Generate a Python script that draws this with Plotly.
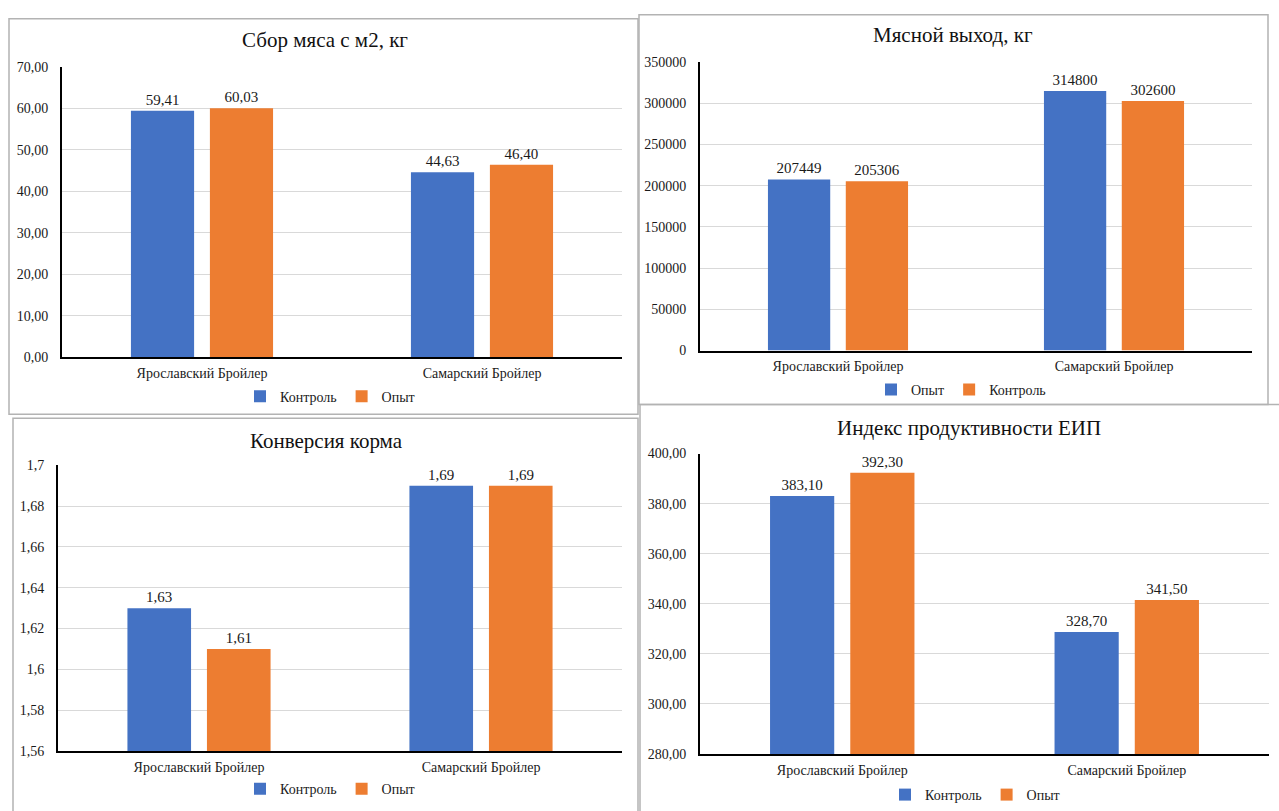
import plotly.graph_objects as go

W, H = 1279, 811

categories = ["Ярославский Бройлер", "Самарский Бройлер"]

# Panel 1: Сбор мяса с м2, кг
p1_title = "Сбор мяса с м2, кг"
p1_names = ["Контроль", "Опыт"]
p1_a = [59.41, 44.63]
p1_b = [60.03, 46.40]

# Panel 2: Мясной выход, кг
p2_title = "Мясной выход, кг"
p2_names = ["Опыт", "Контроль"]
p2_a = [207449, 314800]
p2_b = [205306, 302600]

# Panel 3: Конверсия корма
p3_title = "Конверсия корма"
p3_names = ["Контроль", "Опыт"]
p3_a = [1.63, 1.69]
p3_b = [1.61, 1.69]

# Panel 4: Индекс продуктивности ЕИП
p4_title = "Индекс продуктивности ЕИП"
p4_names = ["Контроль", "Опыт"]
p4_a = [383.10, 328.70]
p4_b = [392.30, 341.50]

BLUE = "#4472C4"
ORANGE = "#ED7D31"
FONT = "Liberation Serif"

panels = [
    dict(title=p1_title, names=p1_names, a=p1_a, b=p1_b, rng=[0, 70], dtick=10, tickformat=".2f",
         texttemplate="%{y:.2f}", px=(62, 622), py=(61, 357), title_xy=(325, 34), legend_xy=(330, 397),
         border=(9, 12, 638, 415)),
    dict(title=p2_title, names=p2_names, a=p2_a, b=p2_b, rng=[0, 350000], dtick=50000, tickformat="d",
         texttemplate="%{y:d}", px=(700, 1252), py=(56, 350), title_xy=(953, 29), legend_xy=(961, 390),
         border=(639, 8, 1268, 405)),
    dict(title=p3_title, names=p3_names, a=p3_a, b=p3_b, rng=[1.56, 1.70], dtick=0.02, tickformat="",
         texttemplate="%{y:.2f}", px=(58, 622), py=(467, 758), title_xy=(326, 442), legend_xy=(330, 797),
         border=(13, 419, 638, 820)),
    dict(title=p4_title, names=p4_names, a=p4_a, b=p4_b, rng=[280, 400], dtick=20, tickformat=".2f",
         texttemplate="%{y:.2f}", px=(700, 1269), py=(455, 761), title_xy=(969, 429), legend_xy=(975, 803),
         border=(640, 405, 1290, 820)),
]

fig = go.Figure()
annotations = []
shapes = []
layout_extra = {}

for i, p in enumerate(panels, start=1):
    xa = "x" if i == 1 else f"x{i}"
    ya = "y" if i == 1 else f"y{i}"
    lg = "legend" if i == 1 else f"legend{i}"
    for vals, name, color in [(p["a"], p["names"][0], BLUE), (p["b"], p["names"][1], ORANGE)]:
        fig.add_trace(go.Bar(
            x=categories, y=vals, name=name, marker=dict(color=color, line=dict(width=0)),
            xaxis=xa, yaxis=ya, legend=lg,
            texttemplate=p["texttemplate"], textposition="outside",
            textfont=dict(family=FONT, size=15, color="#1a1a1a"),
            cliponaxis=False,
        ))
    xkey = "xaxis" if i == 1 else f"xaxis{i}"
    ykey = "yaxis" if i == 1 else f"yaxis{i}"
    layout_extra[xkey] = dict(
        domain=[p["px"][0] / W, p["px"][1] / W], anchor=ya,
        showline=True, linecolor="black", linewidth=2, showgrid=False, ticks="",
        tickfont=dict(family=FONT, size=14, color="#1a1a1a"),
        ticklabelstandoff=2, fixedrange=True,
    )
    layout_extra[ykey] = dict(
        domain=[1 - p["py"][1] / H, 1 - p["py"][0] / H], anchor=xa,
        range=p["rng"], dtick=p["dtick"], tick0=p["rng"][0], tickformat=p["tickformat"],
        showline=True, linecolor="black", linewidth=2, showgrid=True, gridcolor="#d9d9d9", gridwidth=1,
        zeroline=False, ticks="",
        tickfont=dict(family=FONT, size=14, color="#1a1a1a"),
        ticklabelstandoff=9, fixedrange=True,
    )
    layout_extra[lg] = dict(
        x=p["legend_xy"][0] / W, y=1 - p["legend_xy"][1] / H, xanchor="center", yanchor="middle",
        orientation="h", font=dict(family=FONT, size=14, color="#1a1a1a"),
        bgcolor="rgba(0,0,0,0)", itemwidth=30, tracegroupgap=0,
    )
    annotations.append(dict(
        text=p["title"], x=p["title_xy"][0] / W, y=1 - p["title_xy"][1] / H,
        xref="paper", yref="paper", xanchor="center", yanchor="middle", showarrow=False,
        font=dict(family=FONT, size=21, color="#111111"),
    ))
    bx0, by0, bx1, by1 = p["border"]
    shapes.append(dict(
        type="rect", xref="paper", yref="paper",
        x0=bx0 / W, x1=bx1 / W, y0=1 - by1 / H, y1=1 - by0 / H,
        line=dict(color="#b3b3b3", width=1.5), fillcolor="rgba(0,0,0,0)", layer="below",
    ))

fig.update_layout(
    width=W, height=H, margin=dict(l=0, r=0, t=0, b=0),
    paper_bgcolor="white", plot_bgcolor="white",
    barmode="group", bargap=0.436, bargroupgap=0.2,
    separators=", ",
    showlegend=True,
    annotations=annotations, shapes=shapes,
    **layout_extra,
)

fig.write_html("out.html", config={"displayModeBar": False})
